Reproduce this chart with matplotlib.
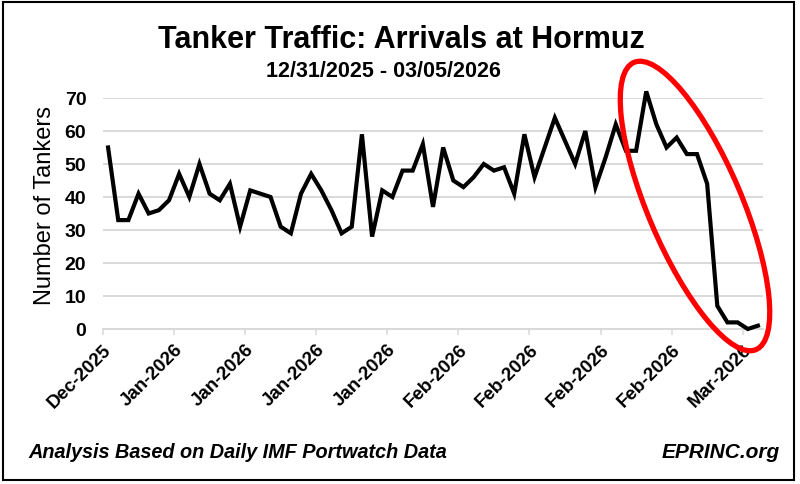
import numpy as np
import pandas as pd
import matplotlib
matplotlib.use("Agg")
import matplotlib.pyplot as plt
from matplotlib.patches import Ellipse, Rectangle
from matplotlib.transforms import IdentityTransform, ScaledTranslation

plt.rcParams["font.family"] = ["Liberation Sans", "DejaVu Sans"]

# daily tanker arrivals at Hormuz, 12/31/2025 - 03/05/2026
inicio = "2025-12-31"
chegadas = [55, 33, 33, 41, 35, 36, 39, 47, 40, 50,
            41, 39, 44, 31, 42, 41, 40, 31, 29, 41,
            47, 42, 36, 29, 31, 59, 28, 42, 40, 48,
            48, 56, 37, 55, 45, 43, 46, 50, 48, 49,
            41, 59, 46, 55, 64, 57, 50, 60, 43, 52,
            62, 54, 54, 72, 62, 55, 58, 53, 53, 44,
            7, 2, 2, 0, 1]
y_ticks = [0, 10, 20, 30, 40, 50, 60, 70]
passo_ticks = 7

datas = pd.date_range(inicio, periods=len(chegadas), freq="D")
dias = np.arange(len(chegadas))
tick_pos = np.arange(0, len(chegadas), passo_ticks)
tick_labels = [datas[i].strftime("%b-%Y") for i in tick_pos]

fig = plt.figure(figsize=(8, 4.85), dpi=100)
ax = fig.add_axes([0.12875, 0.3196, 0.825, 0.4763])

ax.plot(dias + 0.5, chegadas, color="black", lw=3.0, solid_joinstyle="miter",
        zorder=3, clip_on=False)

ax.set_xlim(0, len(chegadas))
ax.set_ylim(0, 70)
ax.set_yticks(y_ticks)
ax.set_xticks(tick_pos)
ax.set_xticklabels(tick_labels, rotation=45, ha="right", va="center",
                   rotation_mode="anchor", fontsize=13.5, fontweight="bold")
ax.tick_params(axis="x", length=4.5, width=1.1, color="#d9d9d9", pad=8)
ax.tick_params(axis="y", length=0, pad=12, labelsize=14)
for lab in ax.get_yticklabels():
    lab.set_fontweight("bold")
desloc = ScaledTranslation(0.06, 0, fig.dpi_scale_trans)
for lab in ax.get_xticklabels():
    lab.set_transform(lab.get_transform() + desloc)

ax.grid(True, axis="y", color="#d9d9d9", lw=1.4)
ax.set_axisbelow(True)
for s in ["top", "right", "left"]:
    ax.spines[s].set_visible(False)
ax.spines["bottom"].set_color("#d9d9d9")
ax.spines["bottom"].set_linewidth(1.4)

ax.set_ylabel("Number of Tankers", fontsize=17, va="center")
ax.yaxis.set_label_coords(-0.088, 0.537)

fig.text(0.502, 0.918, "Tanker Traffic: Arrivals at Hormuz", ha="center", va="center",
         fontsize=22, fontweight="bold")
fig.text(0.479, 0.852, "12/31/2025 - 03/05/2026", ha="center", va="center",
         fontsize=15.5, fontweight="bold")
fig.text(0.035, 0.055, "Analysis Based on Daily IMF Portwatch Data", ha="left",
         va="baseline", fontsize=14.3, fontweight="bold", style="italic")
fig.text(0.975, 0.055, "EPRINC.org", ha="right", va="baseline",
         fontsize=15, fontweight="bold", style="italic")

# red ellipse highlighting the collapse (pixel coordinates)
elipse = Ellipse((695, 485 - 207), width=94, height=312, angle=23,
                 fill=False, edgecolor="#ff0000", lw=3.8,
                 transform=IdentityTransform(), zorder=10)
fig.add_artist(elipse)

# outer frame
fig.add_artist(Rectangle((0.004, 0.008), 0.988, 0.985, transform=fig.transFigure,
                         fill=False, edgecolor="black", lw=1.5))

fig.savefig("out.png", dpi=100)
